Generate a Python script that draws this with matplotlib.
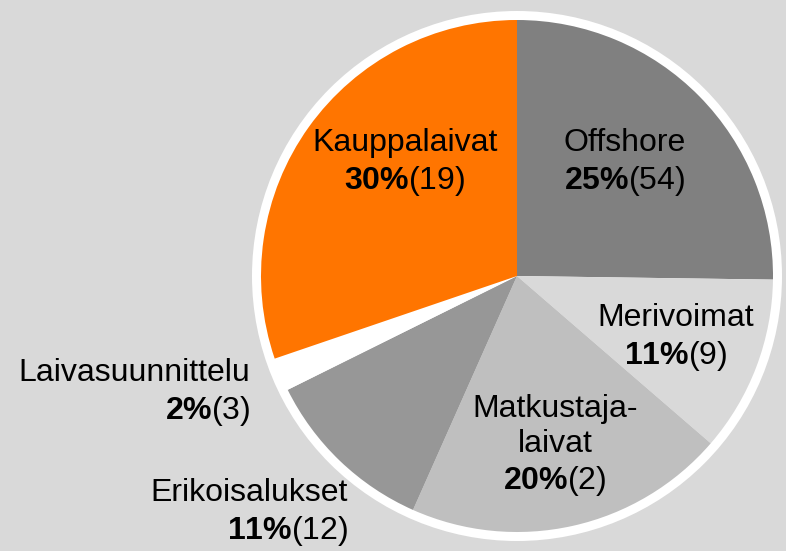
import matplotlib.pyplot as plt
from matplotlib.patches import Circle

plt.rcParams['font.family'] = ['Liberation Sans', 'DejaVu Sans']
plt.rcParams['mathtext.fontset'] = 'custom'
plt.rcParams['mathtext.rm'] = 'Liberation Sans'
plt.rcParams['mathtext.bf'] = 'Liberation Sans:bold'

# slice order: clockwise from 12 o'clock
names = ['Offshore', 'Merivoimat', 'Matkustaja-\nlaivat', 'Erikoisalukset',
         'Laivasuunnittelu', 'Kauppalaivat']
shares = [25.2, 11.1, 20.3, 11.0, 2.1, 30.2]
pct_labels = ['25%', '11%', '20%', '11%', '2%', '30%']
counts = [54, 9, 2, 12, 3, 19]
colors = ['#808080', '#d9d9d9', '#bfbfbf', '#979797', '#ffffff', '#ff7500']

W, H = 786, 551
fig = plt.figure(figsize=(W / 100, H / 100), dpi=100)
fig.patch.set_facecolor('#d9d9d9')
ax = fig.add_axes([0, 0, 1, 1])

cx, cy, r = 517, H - 276, 256
ax.add_patch(Circle((cx, cy), r + 9, facecolor='white', edgecolor='none', zorder=1))
ax.pie(shares, colors=colors, startangle=90, counterclock=False,
       center=(cx, cy), radius=r, frame=True,
       wedgeprops=dict(linewidth=0, zorder=2))
ax.set_xlim(0, W)
ax.set_ylim(0, H)
ax.axis('off')

# label positions in image pixels (x, y of block centre) and alignment
label_pos = [(625, 163, 'center'), (676, 338, 'center'), (555, 446, 'center'),
             (348, 513, 'right'), (250, 393, 'right'), (405, 163, 'center')]

for name, p, c, (x, y, ha) in zip(names, pct_labels, counts, label_pos):
    txt = name + '\n' + r'$\mathbf{' + p.replace('%', r'\%') + '}$' + f'({c})'
    ax.text(x, H - y, txt, ha=ha, va='center', multialignment=ha,
            fontsize=23, color='black', linespacing=1.22, zorder=5)

fig.savefig('out.png', dpi=100, facecolor=fig.get_facecolor())
